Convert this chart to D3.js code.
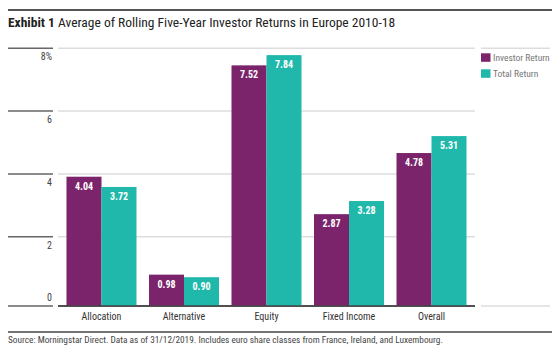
<!DOCTYPE html>
<html><head><meta charset="utf-8">
<script src="https://cdn.jsdelivr.net/npm/d3@7"></script>
<style>
body{margin:0;background:#fff;}
text{font-family:"Liberation Sans Narrow","Roboto Condensed","Liberation Sans",sans-serif;}
</style></head>
<body><svg id="c" width="560" height="356"></svg>
<script>
const categories = ["Allocation","Alternative","Equity","Fixed Income","Overall"];
const seriesNames = ["Investor Return","Total Return"];
const investorReturn = [4.04, 0.98, 7.52, 2.87, 4.78];
const totalReturn = [3.72, 0.90, 7.84, 3.28, 5.31];
const tickValues = [0, 2, 4, 6, 8];
const tickLabels = ["0", "2", "4", "6", "8%"];
const colors = ["#7b246b", "#1fb8aa"];

const svg = d3.select("#c");
// top rule
svg.append("line").attr("x1",8).attr("x2",552).attr("y1",10).attr("y2",10).attr("stroke","#555").attr("stroke-width",2);
// title
const t = svg.append("text").attr("x",8).attr("y",27).attr("font-size",13.5).attr("fill","#222");
t.append("tspan").attr("font-weight","bold").text("Exhibit 1");
t.append("tspan").text(" Average of Rolling Five-Year Investor Returns in Europe 2010-18");

const y = d3.scaleLinear().domain([0,8]).range([306,50]);
const yGrid = d3.scaleLinear().domain([0,8]).range([299.5,48.3]);
const x = d3.scaleBand().domain(categories).range([58,475]).paddingInner(0.1515).paddingOuter(0.103);
const xs = d3.scaleBand().domain(seriesNames).range([0,x.bandwidth()]);

// gridlines
tickValues.forEach((v,i)=>{
  const gy = v===0 ? y(0) : yGrid(v);
  svg.append("line").attr("x1",8).attr("x2",53).attr("y1",gy).attr("y2",gy).attr("stroke","#666").attr("stroke-width",1.5);
  svg.append("line").attr("x1",58).attr("x2",475).attr("y1",gy).attr("y2",gy)
    .attr("stroke", v===0 ? "#444" : "#ddd").attr("stroke-width",1.5);
  svg.append("text").attr("x",52).attr("y", v===0 ? gy-5 : gy+12).attr("text-anchor","end")
    .attr("font-size",10).attr("fill","#444").text(tickLabels[i]);
});
// legend column lines
[yGrid(8), y(0)].forEach(ly=>{
  svg.append("line").attr("x1",481).attr("x2",550).attr("y1",ly).attr("y2",ly).attr("stroke","#ddd").attr("stroke-width",1.5);
});

const series = [investorReturn, totalReturn];
series.forEach((vals,si)=>{
  const g = svg.append("g");
  g.selectAll("rect").data(vals).join("rect")
    .attr("x",(d,i)=>x(categories[i])+xs(seriesNames[si]))
    .attr("y",d=>y(d)).attr("width",xs.bandwidth()).attr("height",d=>y(0)-y(d))
    .attr("fill",colors[si]);
  g.selectAll("text").data(vals).join("text")
    .attr("x",(d,i)=>x(categories[i])+xs(seriesNames[si])+xs.bandwidth()/2)
    .attr("y",d=>y(d)+13).attr("text-anchor","middle").attr("font-size",10).attr("font-weight","bold")
    .attr("fill","#fff").text(d=>d.toFixed(2));
});
// baseline on top
svg.append("line").attr("x1",58).attr("x2",475).attr("y1",y(0)).attr("y2",y(0)).attr("stroke","#444").attr("stroke-width",1.5);

// x labels
categories.forEach(c=>{
  svg.append("text").attr("x",x(c)+x.bandwidth()/2).attr("y",320).attr("text-anchor","middle")
    .attr("font-size",10).attr("fill","#333").text(c);
});

// legend
seriesNames.forEach((s,i)=>{
  const ly = 53.3 + i*16;
  svg.append("rect").attr("x",481).attr("y",ly).attr("width",9.5).attr("height",8.5).attr("fill",colors[i]);
  svg.append("text").attr("x",493).attr("y",ly+7.5).attr("font-size",9.5).attr("fill","#777").text(s);
});

// footer
svg.append("line").attr("x1",8).attr("x2",552).attr("y1",332).attr("y2",332).attr("stroke","#444").attr("stroke-width",1.5);
svg.append("text").attr("x",8).attr("y",343).attr("font-size",9.3).attr("fill","#444")
  .text("Source: Morningstar Direct. Data as of 31/12/2019. Includes euro share classes from France, Ireland, and Luxembourg.");
</script></body></html>
